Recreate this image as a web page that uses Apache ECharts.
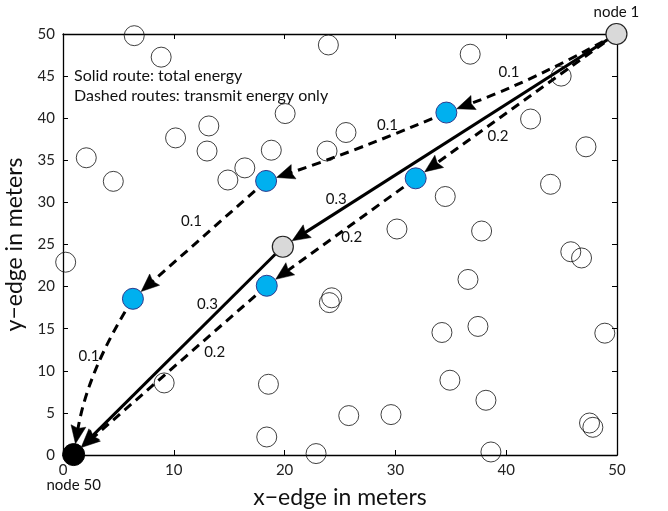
<!DOCTYPE html>
<html><head><meta charset="utf-8">
<script src="https://cdn.jsdelivr.net/npm/echarts@6/dist/echarts.min.js"></script>
<style>html,body{margin:0;padding:0;background:#fff}#c{width:668px;height:511px}</style>
</head><body><div id="c"></div>
<script>
// ---------- data ----------
const xAxisTitle = 'x\u2212edge in meters';
const yAxisTitle = 'y\u2212edge in meters';
const xRange = [0, 50];
const yRange = [0, 50];
const xStep = 10;
const yStep = 5;

// ordinary (unused) sensor nodes
const otherNodesX = [6.43, 8.86, 23.95, 2.1, 4.54, 10.16, 13.16, 13.0, 14.88, 16.41, 18.8, 20.05, 23.83, 25.54, 0.24,
  36.75, 44.96, 42.2, 47.2, 44.0, 34.5, 30.14, 37.78, 45.83, 46.8,
  36.55, 34.2, 37.45, 48.9, 34.92, 38.17, 25.79, 29.6, 47.52, 47.82, 38.62,
  9.13, 18.54, 18.39, 22.84, 24.25, 24.04];
const otherNodesY = [49.8, 47.25, 48.7, 35.3, 32.5, 37.66, 39.08, 36.1, 32.66, 34.1, 36.2, 40.55, 36.1, 38.3, 22.9,
  47.6, 45.0, 39.9, 36.6, 32.15, 30.7, 26.84, 26.6, 24.14, 23.4,
  20.85, 14.55, 15.27, 14.47, 8.88, 6.5, 4.68, 4.8, 3.8, 3.29, 0.36,
  8.56, 8.4, 2.14, 0.17, 18.67, 18.1];

// named route nodes
const nodeNames = ['n1', 'hub', 'r1', 'r2', 'r3', 'r4', 'r5', 'n50'];
const nodeX = [49.95, 19.84, 34.6, 18.33, 6.31, 31.83, 18.39, 0.96];
const nodeY = [50.0, 24.73, 40.67, 32.55, 18.55, 32.86, 20.1, 0.05];
const relayNames = ['r1', 'r2', 'r3', 'r4', 'r5'];
const grayNames = ['n1', 'hub'];
const sinkName = 'n50';
const nodeLabels = { n1: 'node 1', n50: 'node 50' };

// routes (node sequences) and per-hop costs
const solidRoute = ['n1', 'hub', 'n50'];
const solidCosts = ['0.3', '0.3'];
const dashedRouteA = ['n1', 'r1', 'r2', 'r3', 'n50'];
const dashedRouteACosts = ['0.1', '0.1', '0.1', '0.1'];
const dashedRouteB = ['n1', 'r4', 'r5', 'n50'];
const dashedRouteBCosts = ['0.2', '0.2', '0.2'];

const noteLines = ['Solid route: total energy', 'Dashed routes: transmit energy only'];

// ---------- styles ----------
const FONT = 'Lato, "Open Sans", sans-serif';
// label placement (fraction along hop, pixel offset) and hop curvature
const solidStyle = [{ t: 0.84, dx: 0, dy: -14, curv: 0 }, { t: 0.36, dx: 0, dy: -17, curv: 0 }];
const routeAStyle = [{ t: 0.64, dx: 0, dy: -15, curv: -0.04 }, { t: 0.33, dx: 0, dy: -12, curv: -0.02 },
  { t: 0.5, dx: -8, dy: -19, curv: 0 }, { t: 0.35, dx: -16, dy: 6, curv: 0.1 }];
const routeBStyle = [{ t: 0.59, dx: 0, dy: 17, curv: 0 }, { t: 0.43, dx: 0, dy: 13, curv: 0 },
  { t: 0.27, dx: 0, dy: 21, curv: 0 }];

// ---------- build ----------
const nodeIdx = n => nodeNames.indexOf(n);
const P = n => [nodeX[nodeIdx(n)], nodeY[nodeIdx(n)]];

const segments = [];
function addRoute(route, costs, styles, dashed) {
  for (let i = 0; i < route.length - 1; i++) {
    const a = P(route[i]), b = P(route[i + 1]);
    segments.push({ a, b, cost: costs[i], st: styles[i], dashed });
  }
}
addRoute(solidRoute, solidCosts, solidStyle, false);
addRoute(dashedRouteA, dashedRouteACosts, routeAStyle, true);
addRoute(dashedRouteB, dashedRouteBCosts, routeBStyle, true);

const R = 11, AL = 18, AW = 7.5;
function renderSeg(params, api) {
  const s = segments[params.dataIndex];
  const p1 = api.coord(s.a), p2 = api.coord(s.b);
  const dx = p2[0] - p1[0], dy = p2[1] - p1[1];
  const len = Math.hypot(dx, dy);
  const ux = dx / len, uy = dy / len;
  const nx = -uy, ny = ux;
  const c = [(p1[0] + p2[0]) / 2 + s.st.curv * len * nx, (p1[1] + p2[1]) / 2 + s.st.curv * len * ny];
  let ex = p2[0] - c[0], ey = p2[1] - c[1];
  const el = Math.hypot(ex, ey); ex /= el; ey /= el;
  const tip = [p2[0] - ex * R, p2[1] - ey * R];
  const back = [tip[0] - ex * AL, tip[1] - ey * AL];
  const notch = [tip[0] - ex * AL * 0.86, tip[1] - ey * AL * 0.86];
  const b1 = [back[0] - ey * AW, back[1] + ex * AW];
  const b2 = [back[0] + ey * AW, back[1] - ex * AW];
  const lineEnd = [tip[0] - ex * AL * 0.8, tip[1] - ey * AL * 0.8];
  const lineStyle = { stroke: '#000', lineWidth: 3, fill: null, lineDash: s.dashed ? [9, 6] : null };
  const children = [];
  if (s.st.curv) {
    children.push({ type: 'bezierCurve', shape: { x1: p1[0], y1: p1[1], x2: lineEnd[0], y2: lineEnd[1], cpx1: c[0], cpy1: c[1] }, style: lineStyle });
  } else {
    children.push({ type: 'line', shape: { x1: p1[0], y1: p1[1], x2: lineEnd[0], y2: lineEnd[1] }, style: lineStyle });
  }
  children.push({ type: 'polygon', shape: { points: [tip, b1, notch, b2] }, style: { fill: '#000', stroke: '#000', lineWidth: 0.5 } });
  const t = s.st.t;
  const lx = (1 - t) * (1 - t) * p1[0] + 2 * t * (1 - t) * c[0] + t * t * p2[0];
  const ly = (1 - t) * (1 - t) * p1[1] + 2 * t * (1 - t) * c[1] + t * t * p2[1];
  children.push({ type: 'text', x: lx + s.st.dx, y: ly + s.st.dy,
    style: { text: s.cost, font: '15px ' + FONT, fill: '#111', align: 'center', verticalAlign: 'middle' } });
  return { type: 'group', children };
}

const nodeLabelStyle = { color: '#111', fontSize: 15, fontFamily: FONT };
const otherData = otherNodesX.map((x, i) => [x, otherNodesY[i]]);
const relayData = relayNames.map(n => P(n));
const grayData = grayNames.map(n => ({ value: P(n), label: nodeLabels[n] ?
  Object.assign({ show: true, formatter: nodeLabels[n], position: 'top', distance: 3 }, nodeLabelStyle) : { show: false } }));
const sinkData = [{ value: P(sinkName), label: Object.assign({ show: true, formatter: nodeLabels[sinkName], position: 'bottom', distance: 12 }, nodeLabelStyle) }];

const axisCommon = {
  type: 'value', splitLine: { show: false },
  axisLine: { show: true, onZero: false, lineStyle: { color: '#000', width: 1.3 } },
  axisTick: { show: true, inside: true, length: 5, lineStyle: { color: '#000', width: 1 } },
};
const labelStyle = { color: '#222', fontSize: 15, fontFamily: FONT };

const option = {
  backgroundColor: '#fff',
  animation: false,
  grid: { left: 63, right: 51, top: 34, bottom: 56, containLabel: false, outerBoundsMode: 'none' },
  xAxis: [
    Object.assign({}, axisCommon, { position: 'bottom', min: xRange[0], max: xRange[1], interval: xStep,
      axisLabel: Object.assign({ margin: 8 }, labelStyle),
      name: xAxisTitle, nameLocation: 'middle', nameGap: 31,
      nameTextStyle: { color: '#111', fontSize: 23, fontFamily: FONT } }),
    Object.assign({}, axisCommon, { position: 'top', min: xRange[0], max: xRange[1], interval: xStep, axisLabel: { show: false } })
  ],
  yAxis: [
    Object.assign({}, axisCommon, { position: 'left', min: yRange[0], max: yRange[1], interval: yStep,
      axisLabel: Object.assign({ margin: 8 }, labelStyle),
      name: yAxisTitle, nameLocation: 'middle', nameGap: 37, nameRotate: 90,
      nameTextStyle: { color: '#111', fontSize: 23, fontFamily: FONT } }),
    Object.assign({}, axisCommon, { position: 'right', min: yRange[0], max: yRange[1], interval: yStep, axisLabel: { show: false } })
  ],
  graphic: [{
    type: 'text', left: 74, top: 66, silent: true,
    style: { text: noteLines.join('\n'), font: '16px ' + FONT, lineHeight: 20, fill: '#111' }
  }],
  series: [
    { type: 'custom', xAxisIndex: 0, yAxisIndex: 0, z: 2, renderItem: renderSeg,
      data: segments.map(s => [s.a[0], s.a[1], s.b[0], s.b[1]]), encode: { x: [0, 2], y: [1, 3] }, silent: true },
    { type: 'scatter', xAxisIndex: 0, yAxisIndex: 0, z: 3, clip: false, symbol: 'circle', symbolSize: 20, data: otherData,
      itemStyle: { color: 'rgba(255,255,255,0)', borderColor: '#111', borderWidth: 1 }, silent: true },
    { type: 'scatter', xAxisIndex: 0, yAxisIndex: 0, z: 4, clip: false, symbol: 'circle', symbolSize: 21, data: relayData,
      itemStyle: { color: '#00b0ef', borderColor: '#2e3a8c', borderWidth: 1, opacity: 1 }, silent: true },
    { type: 'scatter', xAxisIndex: 0, yAxisIndex: 0, z: 4, clip: false, symbol: 'circle', symbolSize: 21, data: grayData,
      itemStyle: { color: '#d9d9d9', borderColor: '#222', borderWidth: 1.2, opacity: 1 },
      label: nodeLabelStyle, silent: true },
    { type: 'scatter', xAxisIndex: 0, yAxisIndex: 0, z: 4, clip: false, symbol: 'circle', symbolSize: 22, data: sinkData,
      itemStyle: { color: '#000', borderColor: '#000', borderWidth: 1, opacity: 1 },
      label: nodeLabelStyle, silent: true }
  ]
};
const chart = echarts.init(document.getElementById('c'), null, { renderer: 'canvas' });
chart.setOption(option);
</script>
</body></html>
